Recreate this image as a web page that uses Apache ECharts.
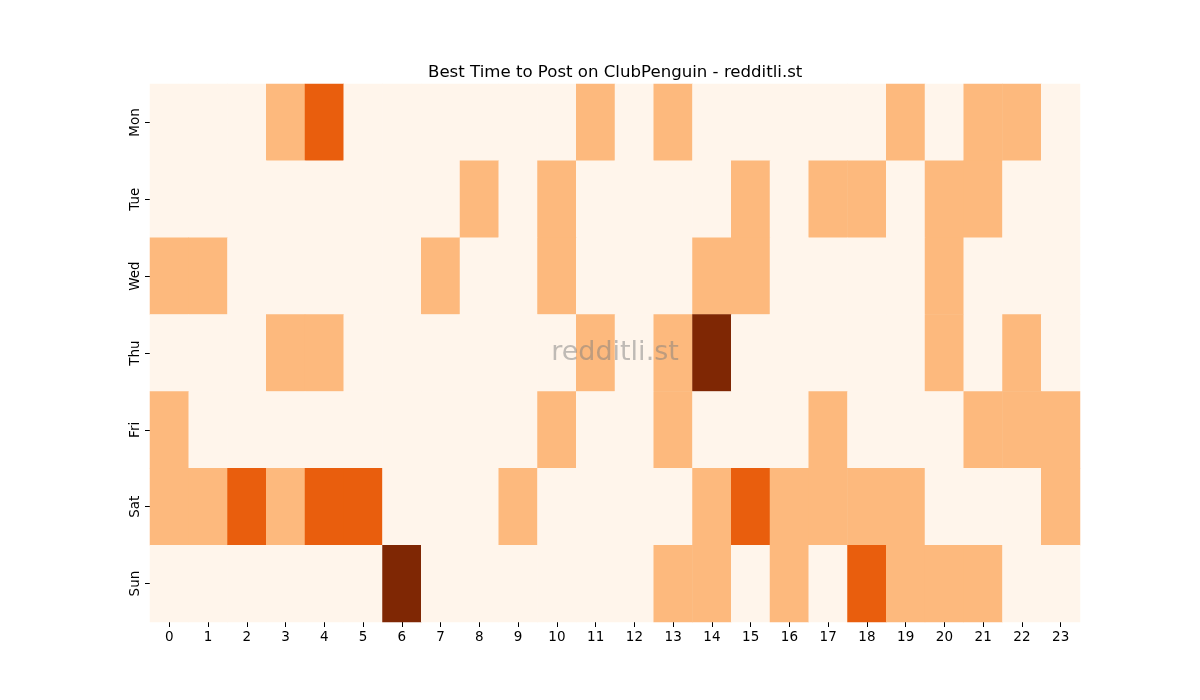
<!DOCTYPE html>
<html>
<head>
<meta charset="utf-8">
<script src="https://cdn.jsdelivr.net/npm/echarts@6/dist/echarts.min.js"></script>
<style>
  html, body { margin: 0; padding: 0; background: #fff; }
  #chart { width: 1200px; height: 700px; }
</style>
</head>
<body>
<div id="chart"></div>
<script>
var hours = ['0', '1', '2', '3', '4', '5', '6', '7', '8', '9', '10', '11',
    '12', '13', '14', '15', '16', '17', '18', '19', '20', '21', '22', '23'];
var days = ['Mon', 'Tue', 'Wed', 'Thu', 'Fri', 'Sat', 'Sun'];

// activity level per hour (0 = low ... 3 = best)
var mon = [0,0,0,1,2,0,0,0,0,0,0,1,0,1,0,0,0,0,0,1,0,1,1,0];
var tue = [0,0,0,0,0,0,0,0,1,0,1,0,0,0,0,1,0,1,1,0,1,1,0,0];
var wed = [1,1,0,0,0,0,0,1,0,0,1,0,0,0,1,1,0,0,0,0,1,0,0,0];
var thu = [0,0,0,1,1,0,0,0,0,0,0,1,0,1,3,0,0,0,0,0,1,0,1,0];
var fri = [1,0,0,0,0,0,0,0,0,0,1,0,0,1,0,0,0,1,0,0,0,1,1,1];
var sat = [1,1,2,1,2,2,0,0,0,1,0,0,0,0,1,2,1,1,1,1,0,0,0,1];
var sun = [0,0,0,0,0,0,3,0,0,0,0,0,0,1,1,0,1,0,2,1,1,1,0,0];

var rows = [mon, tue, wed, thu, fri, sat, sun];
var cells = [];
rows.forEach(function (row, d) {
    row.forEach(function (v, h) {
        cells.push([h, d, v]);
    });
});

var chart = echarts.init(document.getElementById('chart'));
var font = 'DejaVu Sans';
var option = {
    animation: false,
    title: {
        text: 'Best Time to Post on ClubPenguin - redditli.st',
        left: 423,
        top: 59,
        textStyle: {
            fontFamily: font,
            fontSize: 16.6,
            fontWeight: 'normal',
            color: '#000'
        }
    },
    grid: {
        left: 150,
        right: 120,
        top: 84,
        bottom: 78
    },
    xAxis: {
        type: 'category',
        data: hours,
        axisLine: {show: false},
        axisTick: {show: true, alignWithLabel: true, length: 5, lineStyle: {color: '#000'}},
        axisLabel: {fontFamily: font, fontSize: 13.5, color: '#000', margin: 8},
        splitLine: {show: false}
    },
    yAxis: {
        type: 'category',
        data: days,
        inverse: true,
        axisLine: {show: false},
        axisTick: {show: true, alignWithLabel: true, length: 5, lineStyle: {color: '#000'}},
        axisLabel: {fontFamily: font, fontSize: 13.5, color: '#000', rotate: 90, margin: 8},
        splitLine: {show: false}
    },
    visualMap: {
        show: false,
        type: 'piecewise',
        dimension: 2,
        pieces: [
            {value: 0, color: '#fff5eb'},
            {value: 1, color: '#fdb97d'},
            {value: 2, color: '#e95e0d'},
            {value: 3, color: '#7f2704'}
        ]
    },
    graphic: [{
        type: 'text',
        x: 615,
        y: 353,
        z: 100,
        style: {
            text: 'redditli.st',
            align: 'center',
            verticalAlign: 'middle',
            font: '27px "DejaVu Sans"',
            fill: 'rgba(128,128,128,0.5)'
        }
    }],
    series: [{
        type: 'heatmap',
        data: cells,
        itemStyle: {borderWidth: 0},
        emphasis: {disabled: true}
    }]
};
chart.setOption(option);
</script>
</body>
</html>
